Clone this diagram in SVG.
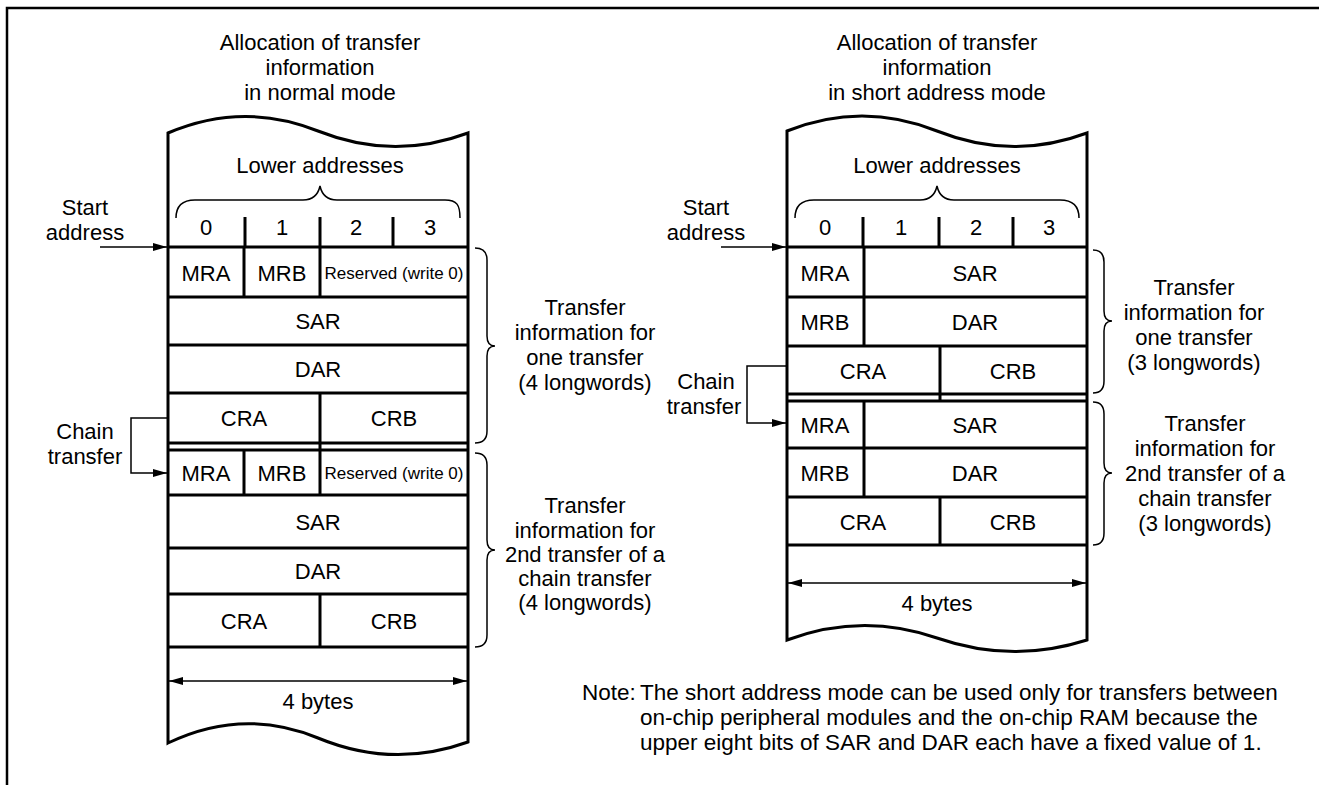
<svg xmlns="http://www.w3.org/2000/svg" width="1319" height="785" viewBox="0 0 1319 785">
<style>
text{font-family:"Liberation Sans",Arial,sans-serif;font-size:22px;fill:#000;text-anchor:middle}
.sm{font-size:17px}
.lt{text-anchor:start}
.nt{font-size:22.5px}
.box{fill:#fff;stroke:#000;stroke-width:3}
.ln{stroke:#000;stroke-width:3;fill:none}
.thin{stroke:#000;stroke-width:1.5;fill:none}
.frame{stroke:#000;stroke-width:2.5;fill:none}
</style>
<defs>
<marker id="ah" viewBox="0 0 14 8" refX="14" refY="4" markerWidth="14" markerHeight="8" markerUnits="userSpaceOnUse" orient="auto-start-reverse"><path d="M0,0 L14,4 L0,8 Z" fill="#000"/></marker>
</defs>
<rect width="1319" height="785" fill="#fff"/>
<path class="frame" d="M7,785 V8 H1319"/>

<g id="left-title">
<text x="320" y="50">Allocation of transfer</text>
<text x="320" y="75">information</text>
<text x="320" y="100">in normal mode</text>
</g>

<g id="left-memory">
<path class="box" d="M168,743 L168,133 Q243,101 318,131 T468,133 L468,742 Q393,769 318,738 Q243,707 168,743 Z"/>
<text x="320" y="173">Lower addresses</text>
<path class="thin" d="M176,218 C176,205 183,200 195,200 L303,200 C313,200 318,195 320,186 C322,195 327,200 337,200 L445,200 C457,200 460,205 460,218"/>
<path class="ln" d="M245,217 V247 M320,217 V247 M393,217 V247"/>
<text x="206" y="235">0</text><text x="282" y="235">1</text><text x="356" y="235">2</text><text x="430" y="235">3</text>
<path class="ln" d="M168,247 H468 M168,297 H468 M168,345 H468 M168,393 H468 M168,443 H468 M168,450 H468 M168,495 H468 M168,548 H468 M168,594 H468 M168,647 H468"/>
<path class="ln" d="M244,247 V297 M320,247 V297 M320,393 V450 M244,450 V495 M320,450 V495 M320,594 V647"/>
</g>
<g id="left-block1">
<text x="206" y="281">MRA</text><text x="282" y="281">MRB</text><text class="sm" x="394" y="279">Reserved (write 0)</text>
<text x="318" y="329">SAR</text>
<text x="318" y="377">DAR</text>
<text x="244" y="426">CRA</text><text x="394" y="426">CRB</text>
</g>
<g id="left-block2">
<text x="206" y="481">MRA</text><text x="282" y="481">MRB</text><text class="sm" x="394" y="479">Reserved (write 0)</text>
<text x="318" y="530">SAR</text>
<text x="318" y="579">DAR</text>
<text x="244" y="629">CRA</text><text x="394" y="629">CRB</text>
</g>
<g id="left-width">
<text x="318" y="709">4 bytes</text>
</g>
<g id="left-labels">
<text x="85" y="215">Start</text><text x="85" y="240">address</text>
<text x="85" y="439">Chain</text><text x="85" y="464">transfer</text>
</g>
<g id="left-brace1">
<path class="thin" d="M475,248 Q487,248 487,260 L487,336 Q487,346 495,346 Q487,346 487,356 L487,431 Q487,443 475,443"/>
<text x="585" y="315">Transfer</text><text x="585" y="340">information for</text><text x="585" y="365">one transfer</text><text x="585" y="390">(4 longwords)</text>
</g>
<g id="left-brace2">
<path class="thin" d="M475,453 Q487,453 487,465 L487,540 Q487,550 495,550 Q487,550 487,560 L487,635 Q487,647 475,647"/>
<text x="585" y="513">Transfer</text><text x="585" y="538">information for</text><text x="585" y="562">2nd transfer of a</text><text x="585" y="586">chain transfer</text><text x="585" y="610">(4 longwords)</text>
</g>

<g id="right-title">
<text x="937" y="50">Allocation of transfer</text>
<text x="937" y="75">information</text>
<text x="937" y="100">in short address mode</text>
</g>
<g id="right-memory">
<path class="box" d="M787,640 L787,131 Q862,101 937,131 T1087,133 L1087,640 Q1012,664 937,638 Q862,612 787,640 Z"/>
<text x="937" y="173">Lower addresses</text>
<path class="thin" d="M795,218 C795,205 802,200 814,200 L920,200 C930,200 935,195 937,186 C939,195 944,200 954,200 L1060,200 C1072,200 1079,205 1079,218"/>
<path class="ln" d="M863,217 V247 M939,217 V247 M1013,217 V247"/>
<text x="825" y="235">0</text><text x="901" y="235">1</text><text x="976" y="235">2</text><text x="1049" y="235">3</text>
<path class="ln" d="M787,247 H1087 M787,297 H1087 M787,346 H1087 M787,394 H1087 M787,401 H1087 M787,448 H1087 M787,497 H1087 M787,545 H1087"/>
<path class="ln" d="M864,247 V346 M940,346 V401 M864,401 V497 M940,497 V545"/>
</g>
<g id="right-block1">
<text x="825" y="281">MRA</text><text x="975" y="281">SAR</text>
<text x="825" y="330">MRB</text><text x="975" y="330">DAR</text>
<text x="863" y="379">CRA</text><text x="1013" y="379">CRB</text>
</g>
<g id="right-block2">
<text x="825" y="433">MRA</text><text x="975" y="433">SAR</text>
<text x="825" y="481">MRB</text><text x="975" y="481">DAR</text>
<text x="863" y="530">CRA</text><text x="1013" y="530">CRB</text>
</g>
<g id="right-width">
<text x="937" y="611">4 bytes</text>
</g>
<g id="right-labels">
<text x="706" y="215">Start</text><text x="706" y="240">address</text>
<text x="706" y="389">Chain</text><text x="704" y="414">transfer</text>
</g>
<g id="right-brace1">
<path class="thin" d="M1093,250 Q1104,250 1104,262 L1104,311 Q1104,321 1112,321 Q1104,321 1104,331 L1104,381 Q1104,393 1093,393"/>
<text x="1194" y="295">Transfer</text><text x="1194" y="320">information for</text><text x="1194" y="345">one transfer</text><text x="1194" y="370">(3 longwords)</text>
</g>
<g id="right-brace2">
<path class="thin" d="M1093,402 Q1104,402 1104,414 L1104,463 Q1104,473 1112,473 Q1104,473 1104,483 L1104,533 Q1104,545 1093,545"/>
<text x="1205" y="431">Transfer</text><text x="1205" y="456">information for</text><text x="1205" y="481">2nd transfer of a</text><text x="1205" y="506">chain transfer</text><text x="1205" y="531">(3 longwords)</text>
</g>
<g id="note">
<text class="lt nt" x="582" y="700">Note:</text>
<text class="lt nt" x="640" y="700">The short address mode can be used only for transfers between</text>
<text class="lt nt" x="640" y="725">on-chip peripheral modules and the on-chip RAM because the</text>
<text class="lt nt" x="640" y="750">upper eight bits of SAR and DAR each have a fixed value of 1.</text>
</g>

<g id="connectors">
<path class="thin" marker-end="url(#ah)" d="M100,247 H167"/>
<path class="thin" marker-end="url(#ah)" d="M168,418 H131 V473 H167"/>
<path class="thin" marker-start="url(#ah)" marker-end="url(#ah)" d="M169,681 H467"/>
<path class="thin" marker-end="url(#ah)" d="M721,247 H786"/>
<path class="thin" marker-end="url(#ah)" d="M787,366 H747 V423 H786"/>
<path class="thin" marker-start="url(#ah)" marker-end="url(#ah)" d="M788,583 H1086"/>
</g>
</svg>
